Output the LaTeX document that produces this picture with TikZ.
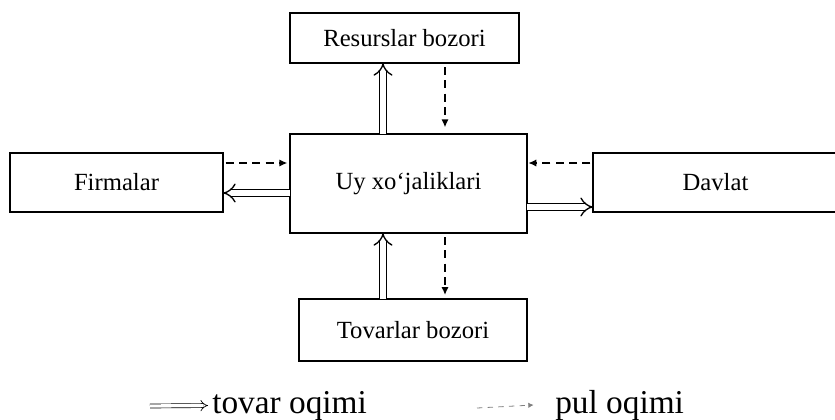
\documentclass[tikz,border=0pt]{standalone}
\usepackage{fontspec}
\setmainfont{Liberation Serif}
\usetikzlibrary{arrows.meta,calc}
\begin{document}
\begin{tikzpicture}[x=0.75pt,y=-0.75pt,
  box/.style={draw, line width=1.3pt, rectangle, inner sep=0pt, outer sep=0pt, font=\fontsize{18.5}{20}\selectfont},
  dbl/.style={double, double distance=4pt, line width=1pt, -{Implies[length=8pt,width=10pt]}},
  dsh/.style={line width=1.1pt, dash pattern=on 6pt off 4pt, -{Latex[length=6pt,width=5.5pt]}},
  legtxt/.style={font=\fontsize{25}{27}\selectfont, inner sep=0pt, anchor=base west}]
\useasboundingbox (0,0) rectangle (835,419);
\node[box, minimum width=213*0.75pt, minimum height=59*0.75pt] (firm) at (116.5,182.5) {Firmalar};
\node[box, minimum width=237*0.75pt, minimum height=99*0.75pt] (uy) at (408.5,183.5) {Uy xo‘jaliklari};
\node[box, minimum width=229*0.75pt, minimum height=50*0.75pt] (res) at (404.5,38) {Resurslar bozori};
\node[box, minimum width=228*0.75pt, minimum height=62*0.75pt] (tov) at (413,330) {Tovarlar bozori};
\node[box, minimum width=245*0.75pt, minimum height=59*0.75pt] (dav) at (715.5,182.5) {Davlat};
% helper coordinates for connector positions
\coordinate (xa) at (383,0);
\coordinate (xb) at (445,0);
\coordinate (ya) at (0,163);
\coordinate (yb) at (0,193);
\coordinate (yc) at (0,207);
% Resurslar
\draw[dbl] (xa |- uy.north) -- (xa |- res.south);
\draw[dsh, shorten <=3pt, shorten >=5pt] (xb |- res.south) -- (xb |- uy.north);
% Tovarlar
\draw[dbl] (xa |- tov.north) -- (xa |- uy.south);
\draw[dsh, shorten <=3pt, shorten >=3pt] (xb |- uy.south) -- (xb |- tov.north);
% Firmalar
\draw[dsh, shorten <=2pt, shorten >=2pt] (firm.east |- ya) -- (uy.west |- ya);
\draw[dbl] (uy.west |- yb) -- (firm.east |- yb);
% Davlat
\draw[dsh, shorten <=2pt, shorten >=1pt] (dav.west |- ya) -- (uy.east |- ya);
\draw[dbl] (uy.east |- yc) -- (dav.west |- yc);
% legend
\node[legtxt] (l1) at (212,413) {tovar oqimi};
\node[legtxt] (l2) at (555,413) {pul oqimi};
\coordinate (l1s) at (150,406);
\coordinate (l2s) at (477,408);
\draw[double, double distance=2.5pt, line width=0.5pt, -{Implies[length=6pt,width=7pt]}] (l1s) -- ($(l1.west)+(-3pt,0)$ |- l1s);
\draw[line width=0.6pt, dash pattern=on 4pt off 4pt, -{Latex[length=4pt,width=4pt]}, gray] (l2s) -- ($(l2.west)+(-16pt,0)$ |- l2s);
\end{tikzpicture}
\end{document}
